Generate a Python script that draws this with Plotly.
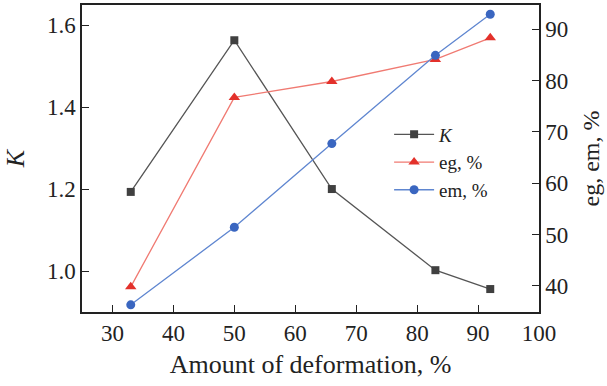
import plotly.graph_objects as go

deformation = [33, 50, 66, 83, 92]
K_vals = [1.193, 1.563, 1.200, 1.002, 0.956]
eg_vals = [39.8, 76.7, 79.8, 84.1, 88.3]
em_vals = [36.3, 51.4, 67.7, 84.9, 92.9]

FONT = "Liberation Serif"

fig = go.Figure()
fig.add_trace(go.Scatter(
    x=deformation, y=K_vals, name="<i>K</i>", mode="lines+markers",
    line=dict(color="#555555", width=1.3),
    marker=dict(symbol="square", size=8, color="#404040"),
    yaxis="y"))
fig.add_trace(go.Scatter(
    x=deformation, y=eg_vals, name="eg, %", mode="lines+markers",
    line=dict(color="#f07a72", width=1.3),
    marker=dict(symbol="triangle-up", size=10, color="#e3312b"),
    yaxis="y2"))
fig.add_trace(go.Scatter(
    x=deformation, y=em_vals, name="em, %", mode="lines+markers",
    line=dict(color="#5f86d0", width=1.3),
    marker=dict(symbol="circle", size=9, color="#3a66c0"),
    yaxis="y2"))

fig.update_layout(
    width=607, height=386,
    margin=dict(l=82, r=68, t=5, b=74),
    plot_bgcolor="white", paper_bgcolor="white",
    font=dict(family=FONT, size=23, color="#222222"),
    showlegend=True,
    legend=dict(x=0.672, y=0.64, xanchor="left", yanchor="top",
                bgcolor="rgba(0,0,0,0)", font=dict(size=19, family=FONT),
                tracegroupgap=0, itemwidth=40),
    xaxis=dict(range=[25, 100], tickvals=[30, 40, 50, 60, 70, 80, 90, 100],
               ticks="inside", ticklen=7, tickcolor="#222", showgrid=False,
               zeroline=False, showline=True, linecolor="#222", linewidth=1.5,
               mirror=True, automargin=False,
               title=dict(text="Amount of deformation, %", standoff=9,
                          font=dict(size=26, family=FONT))),
    yaxis=dict(range=[0.9, 1.649], tickvals=[1.0, 1.2, 1.4, 1.6],
               tickformat=".1f", automargin=False,
               ticks="inside", ticklen=7, tickcolor="#222", showgrid=False,
               zeroline=False, showline=True, linecolor="#222", linewidth=1.5,
               title=dict(text="<i>K</i>", standoff=15, font=dict(size=26, family=FONT))),
    yaxis2=dict(range=[34.9, 94.7], tickvals=[40, 50, 60, 70, 80, 90],
                overlaying="y", side="right", automargin=False,
                ticks="inside", ticklen=7, tickcolor="#222", showgrid=False,
                zeroline=False, showline=True, linecolor="#222", linewidth=1.5,
                title=dict(text="eg, em, %", standoff=15, font=dict(size=24, family=FONT))),
)

fig.write_html("out.html", config={"displayModeBar": False},
               post_script="document.body.style.margin='0';")
